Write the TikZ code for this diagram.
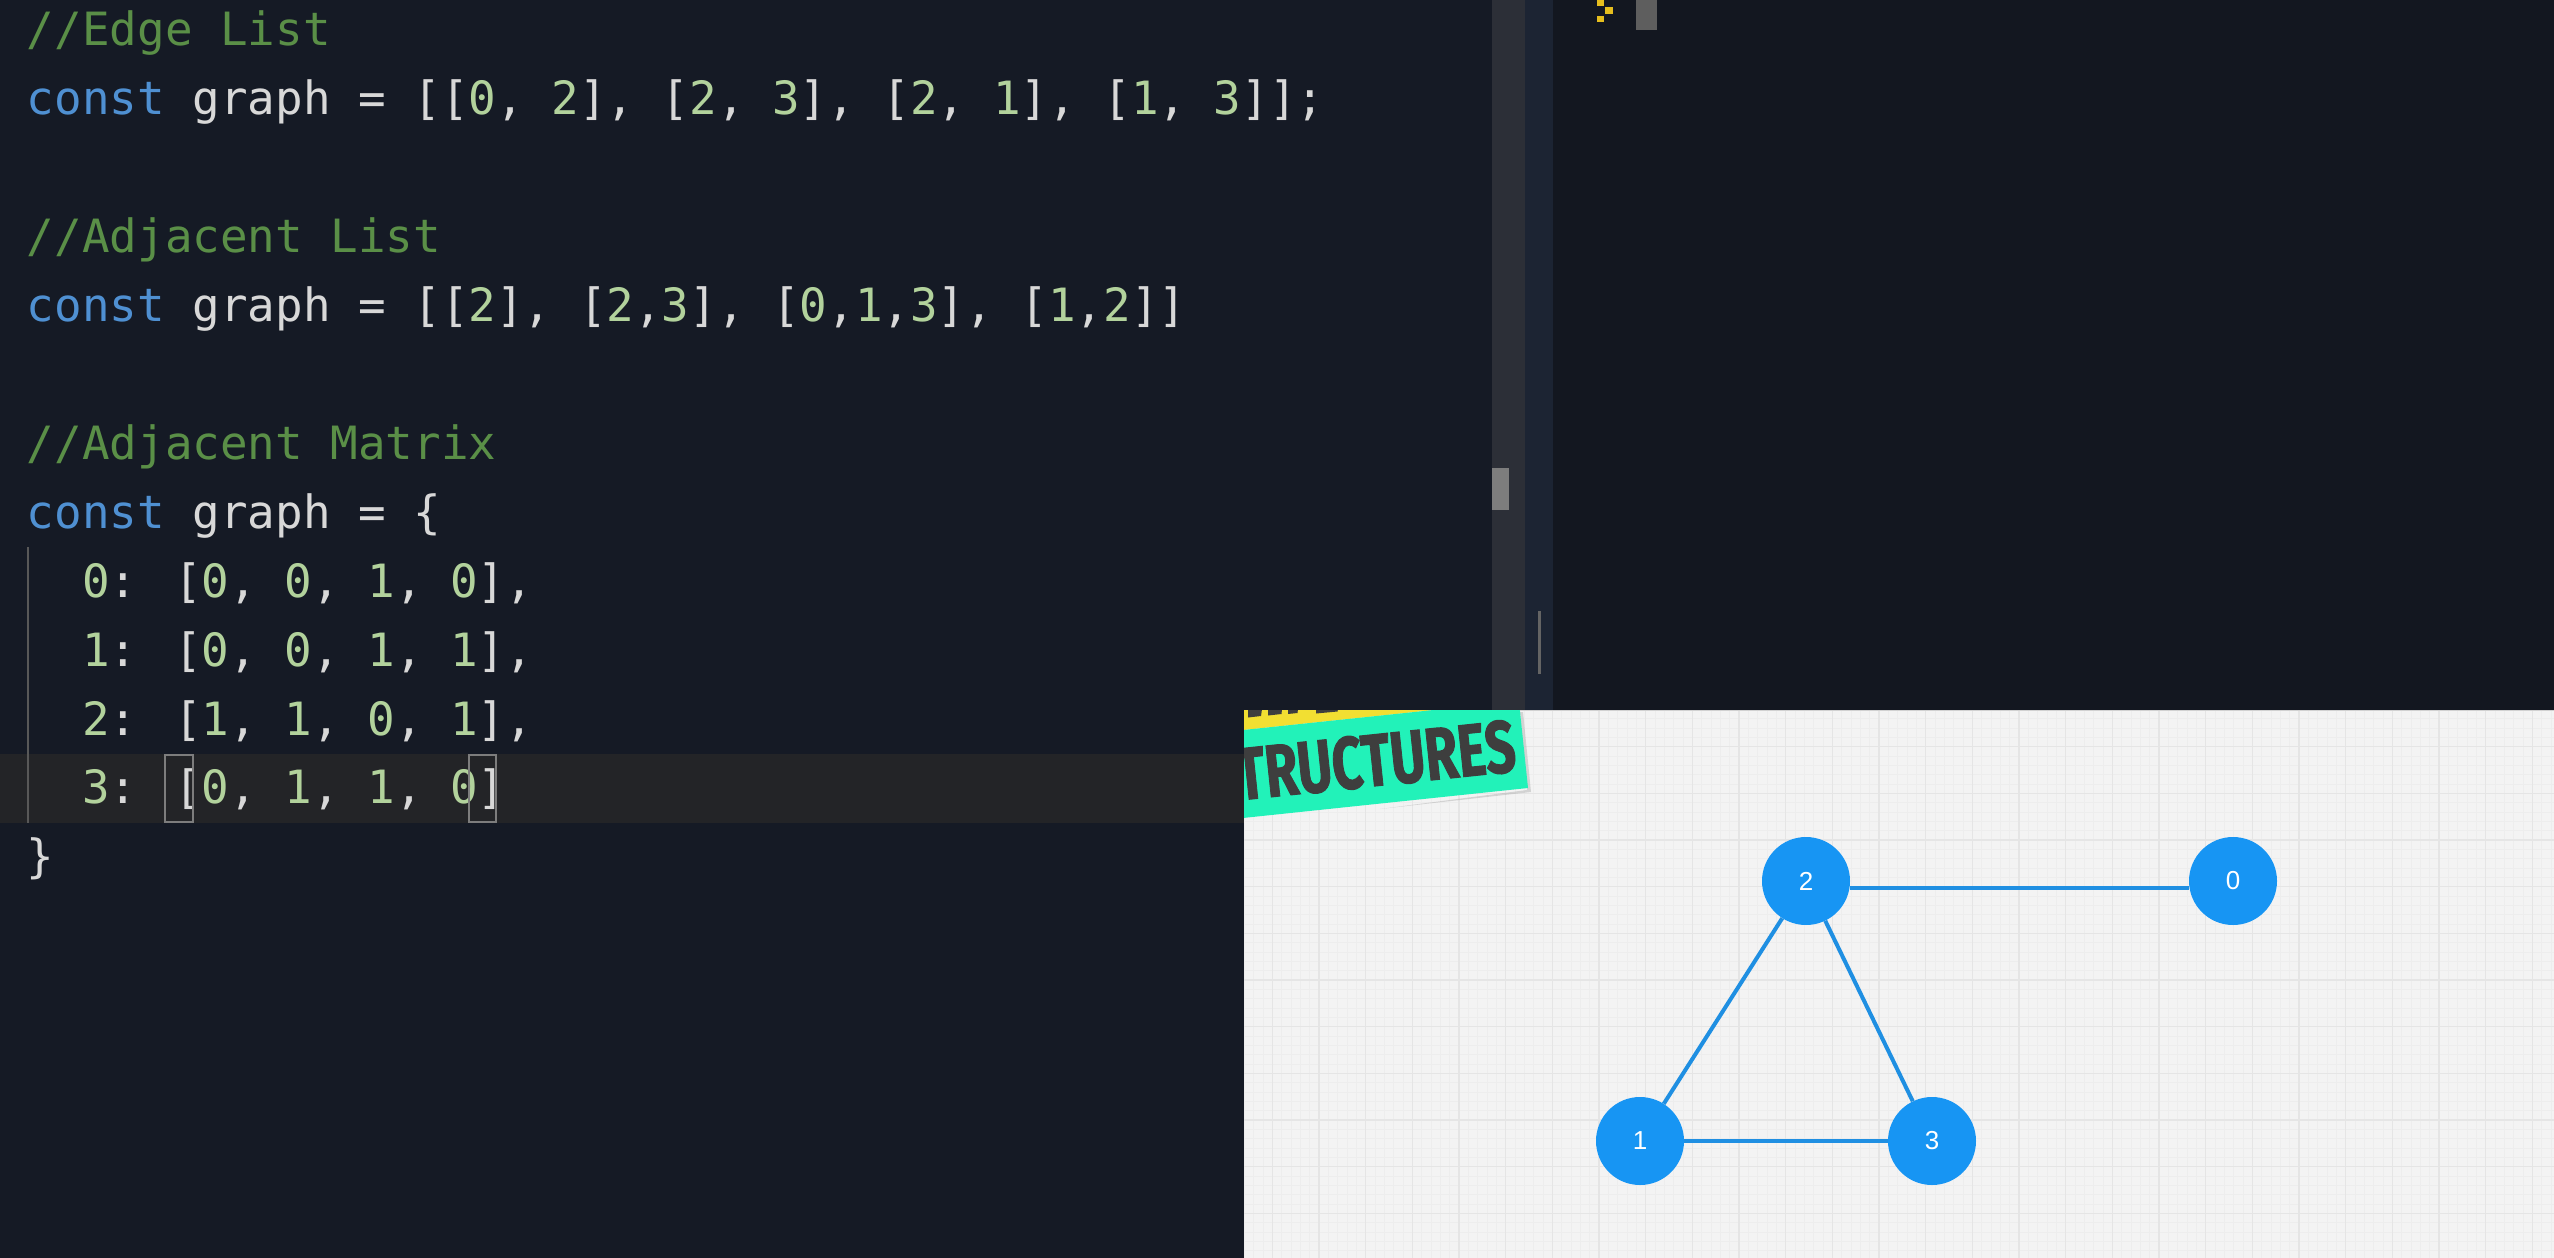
\documentclass[tikz,border=0pt]{standalone}
\usepackage{fontspec}
\newfontfamily\codefont{DejaVu Sans Mono}
\newfontfamily\labelfont{Liberation Sans}
\newfontfamily\badgefont[BoldFeatures={FakeBold=1.5}]{Fira Sans}
\definecolor{edbg}{HTML}{151A25}
\definecolor{termbg}{HTML}{131720}
\definecolor{curline}{HTML}{232427}
\definecolor{cmtc}{HTML}{5A8F47}
\definecolor{kwc}{HTML}{4F90D2}
\definecolor{idc}{HTML}{D8D8D8}
\definecolor{numc}{HTML}{B2D29C}
\definecolor{trackc}{HTML}{2C2F37}
\definecolor{strip}{HTML}{1C2433}
\definecolor{thumbc}{HTML}{7D7D7D}
\definecolor{panelbg}{HTML}{F3F3F3}
\definecolor{gridminor}{HTML}{EDEDED}
\definecolor{gridmajor}{HTML}{E5E5E5}
\definecolor{nodeblue}{HTML}{1795F3}
\definecolor{edgeblue}{HTML}{1F8FE2}
\definecolor{tealc}{HTML}{22F2B9}
\definecolor{yellowc}{HTML}{F2DF32}
\definecolor{badgetext}{HTML}{3E3E3E}
\definecolor{promptc}{HTML}{E6BE1E}
\newcommand{\cm}[1]{\textcolor{cmtc}{#1}}
\newcommand{\kw}[1]{\textcolor{kwc}{#1}}
\newcommand{\nm}[1]{\textcolor{numc}{#1}}
\tikzset{
  codeline/.style={anchor=base west, inner sep=0pt, outer sep=0pt, text=idc,
    font=\codefont\fontsize{45.85}{55}\selectfont},
  gnode/.style={circle, fill=nodeblue, minimum size=88pt, inner sep=0pt,
    text=white, font=\labelfont\fontsize{26}{30}\selectfont},
  gedge/.style={draw=edgeblue, line width=4pt},
  minorline/.style={draw=gridminor, line width=0.7pt},
  majorline/.style={draw=gridmajor, line width=1.4pt},
  bracketbox/.style={draw=thumbc, line width=2pt},
}
\begin{document}
\begin{tikzpicture}[x=1pt,y=-1pt]
\useasboundingbox (0,0) rectangle (2554,1258);
% backgrounds
\fill[edbg] (0,0) rectangle (1492,1258);
\fill[trackc] (1492,0) rectangle (1525,1258);
\fill[strip] (1525,0) rectangle (1553,1258);
\fill[termbg] (1553,0) rectangle (2554,1258);
\fill[thumbc] (1492,468) rectangle (1509,510);
\fill[thumbc!80!black] (1537.5,611) rectangle (1540.5,674);
% terminal prompt and cursor
\fill[promptc] (1597,0) rectangle (1604,5.5);
\fill[promptc] (1605,7) rectangle (1612.5,14);
\fill[promptc] (1597,15.5) rectangle (1604,22);
\fill[thumbc!75!black] (1636,0) rectangle (1657,30);
% current line highlight
\fill[curline] (0,754) rectangle (1492,823);
% indent guide
\draw[draw=thumbc!70!black, line width=2pt] (27.5,547) -- (27.5,823);
% code lines
\node[codeline] (l0) at (27,45) {\cm{//Edge List}};
\node[codeline] (l1) at (27,114) {\kw{const} graph = [[\nm{0}, \nm{2}], [\nm{2}, \nm{3}], [\nm{2}, \nm{1}], [\nm{1}, \nm{3}]];};
\node[codeline] (l3) at (27,252) {\cm{//Adjacent List}};
\node[codeline] (l4) at (27,321) {\kw{const} graph = [[\nm{2}], [\nm{2},\nm{3}], [\nm{0},\nm{1},\nm{3}], [\nm{1},\nm{2}]]};
\node[codeline] (l6) at (27,459) {\cm{//Adjacent Matrix}};
\node[codeline] (l7) at (27,528) {\kw{const} graph = \{};
\node[codeline] (l8) at (82.2,597) {\nm{0}: [\nm{0}, \nm{0}, \nm{1}, \nm{0}],};
\node[codeline] (l9) at (82.2,666) {\nm{1}: [\nm{0}, \nm{0}, \nm{1}, \nm{1}],};
\node[codeline] (l10) at (82.2,735) {\nm{2}: [\nm{1}, \nm{1}, \nm{0}, \nm{1}],};
\node[codeline] (l11) at (82.2,803.5) {\nm{3}: [\nm{0}, \nm{1}, \nm{1}, \nm{0}]};
\node[codeline] (l12) at (27,872.5) {\}};
% matching bracket boxes
\draw[bracketbox] (165,755) rectangle (193,822);
\draw[bracketbox] (468.6,755) rectangle (496,822);
% drawing panel
\begin{scope}
\clip (1244,710) rectangle (2554,1258);
\fill[panelbg] (1244,710) rectangle (2554,1258);
\foreach \i in {0,...,142} {\draw[minorline] ({1225.6+9.3333*\i},700) -- ++(0,560);}
\foreach \j in {0,...,60} {\draw[minorline] (1240,{700+9.3333*\j}) -- ++(1320,0);}
\foreach \i in {0,...,28} {\draw[majorline] ({1225.6+46.667*\i},700) -- ++(0,560);}
\foreach \j in {0,...,12} {\draw[majorline] (1240,{700+46.667*\j}) -- ++(1320,0);}
\draw[draw=black!18, line width=1.5pt] (1244,710.5) -- (2554,710.5);
% badge
\fill[black!40, opacity=0.35] (1380,809) -- (1531,792) -- (1523,712) -- (1520,712) -- (1527,790) -- cycle;
\fill[yellowc] (1190.9,735.5) -- (1450,708.3) -- (1444,650) -- (1184,677) -- cycle;
\fill[tealc] (1200,822.5) -- (1528,788) -- (1518.9,701) -- (1190.9,735.5) -- cycle;
\fill[badgetext] (1248,709) -- (1262,709) -- (1261,716) -- (1248,717.5) -- cycle;
\fill[badgetext] (1268,709) -- (1282,709) -- (1281.5,714) -- (1268,715.5) -- cycle;
\fill[badgetext] (1288,709) -- (1298,709) -- (1297.5,713) -- (1288,714) -- cycle;
\fill[badgetext] (1316,709) -- (1338,709) -- (1337.5,711.5) -- (1316,713.5) -- cycle;
\node[anchor=base east, inner sep=0pt, rotate=6, text=badgetext,
  font=\badgefont\bfseries\fontsize{74}{80}\selectfont] (badge) at (1518,771)
  {\scalebox{0.72}[1]{STRUCTURES}};
\end{scope}
% graph
\node[gnode] (n2) at (1806,881) {2};
\node[gnode] (n0) at (2233,881) {0};
\node[gnode] (n1) at (1640,1141) {1};
\node[gnode] (n3) at (1932,1141) {3};
\draw[gedge] (n2.-9) -- (n0.189);
\draw[gedge] (n2) -- (n1);
\draw[gedge] (n2) -- (n3);
\draw[gedge] (n1) -- (n3);
\end{tikzpicture}
\end{document}
